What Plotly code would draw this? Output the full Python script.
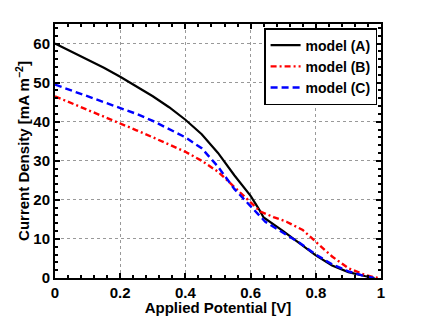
import plotly.graph_objects as go

x_a = [0, 0.05, 0.1, 0.15, 0.2, 0.25, 0.3, 0.35, 0.4, 0.45, 0.5, 0.55, 0.6, 0.625, 0.64, 0.7, 0.75, 0.8, 0.85, 0.9, 0.95, 0.98]
y_a = [60, 58, 56, 53.8, 51.5, 49.1, 46.5, 43.7, 40.5, 36.8, 32, 26.3, 21, 17.7, 15.5, 12, 9, 5.8, 3.2, 1.5, 0.5, 0]
x_b = [0, 0.05, 0.1, 0.15, 0.2, 0.25, 0.3, 0.35, 0.4, 0.45, 0.5, 0.55, 0.6, 0.63, 0.67, 0.71, 0.76, 0.8, 0.85, 0.9, 0.95, 0.99]
y_b = [46.5, 44.8, 43, 41.2, 39.5, 37.8, 36, 34.2, 32.3, 30, 27.2, 23.3, 19.2, 17, 15.6, 14.4, 12.3, 9.2, 5.5, 2.5, 0.8, 0]
x_c = [0, 0.05, 0.1, 0.15, 0.2, 0.25, 0.3, 0.35, 0.4, 0.45, 0.5, 0.55, 0.6, 0.62, 0.645, 0.7, 0.75, 0.8, 0.85, 0.9, 0.95, 0.98]
y_c = [49.5, 48, 46.6, 45.2, 43.7, 42, 40.2, 38.2, 36, 33.2, 28.5, 22.8, 18.2, 16.6, 14.4, 11.5, 9, 6, 3.5, 1.7, 0.5, 0]
x_ticks = [0, 0.2, 0.4, 0.6, 0.8, 1]
x_tick_labels = ["0", "0.2", "0.4", "0.6", "0.8", "1"]
y_ticks = [0, 10, 20, 30, 40, 50, 60]
y_tick_labels = ["0", "10", "20", "30", "40", "50", "60"]
names = ["model (A)", "model (B)", "model (C)"]

fig = go.Figure()
fig.add_trace(go.Scatter(x=x_a, y=y_a, mode="lines", name="<b>" + names[0] + "</b>",
                         line=dict(color="black", width=2.2)))
fig.add_trace(go.Scatter(x=x_b, y=y_b, mode="lines", name="<b>" + names[1] + "</b>",
                         line=dict(color="red", width=2.4, dash="6px,3px,2px,3px")))
fig.add_trace(go.Scatter(x=x_c, y=y_c, mode="lines", name="<b>" + names[2] + "</b>",
                         line=dict(color="blue", width=2.4, dash="7px,4px")))

font = "Liberation Sans, Arial, sans-serif"
axis_common = dict(showline=True, linecolor="black", linewidth=2, mirror="ticks",
                   ticks="inside", ticklen=5, tickwidth=1.5, tickcolor="black",
                   showgrid=True, gridcolor="#999999", griddash="dot", gridwidth=1,
                   zeroline=False, automargin=False,
                   tickfont=dict(family=font, size=15, color="black"))

fig.update_layout(
    width=421, height=316,
    margin=dict(l=55, r=40, t=24, b=38),
    paper_bgcolor="white", plot_bgcolor="white",
    font=dict(family=font, color="black"),
    xaxis=dict(range=[0, 1], tickvals=x_ticks, ticktext=["<b>" + t + "</b>" for t in x_tick_labels],
               title=dict(text="<b>Applied Potential [V]</b>", font=dict(size=15), standoff=4),
               minor=dict(ticks="inside", ticklen=3, dtick=0.04, tickcolor="black", showgrid=False),
               **axis_common),
    yaxis=dict(range=[0, 65], tickvals=y_ticks, ticktext=["<b>" + t + "</b>" for t in y_tick_labels],
               title=dict(text="<b>Current Density [mA m<sup>−2</sup>]</b>", font=dict(size=15), standoff=0),
               minor=dict(ticks="inside", ticklen=3, dtick=2, tickcolor="black", showgrid=False),
               **axis_common),
    legend=dict(x=0.988, y=0.984, xanchor="right", yanchor="top",
                bordercolor="black", borderwidth=1.5, bgcolor="white",
                font=dict(family=font, size=14, color="black"),
                tracegroupgap=0, itemwidth=30),
)

fig.write_html("out.html", config={"displayModeBar": False},
               post_script="document.body.style.margin='0';")
